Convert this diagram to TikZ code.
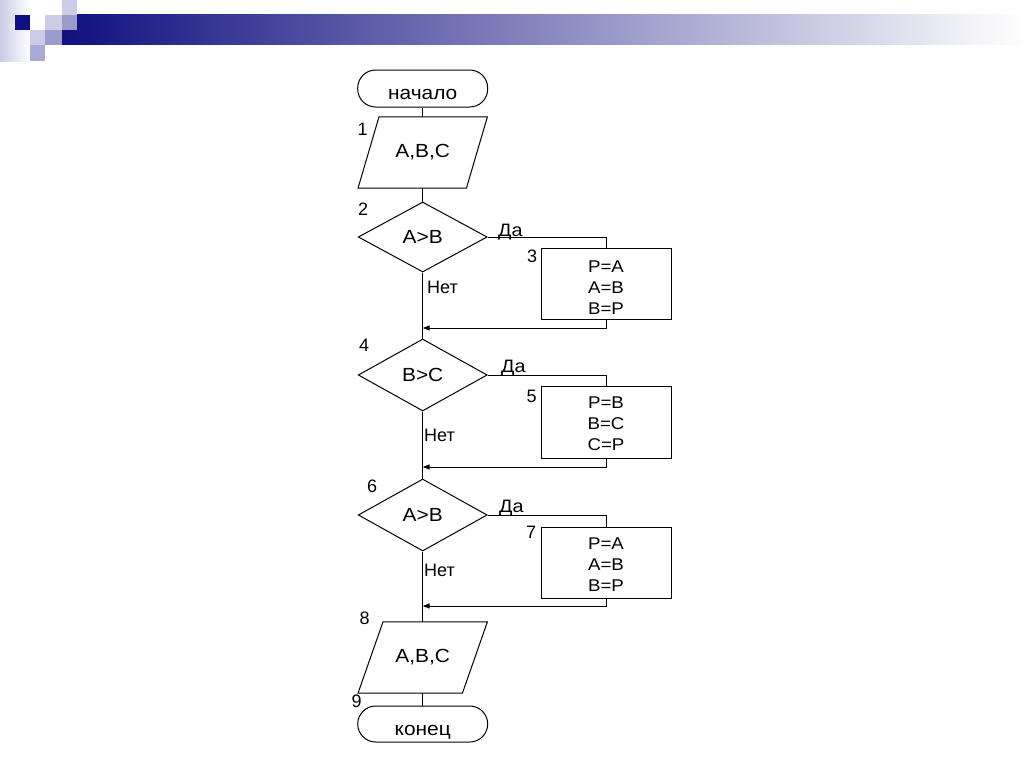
\documentclass[tikz,border=0pt]{standalone}
\usepackage{fontspec}
\setmainfont{Liberation Sans}
\newfontfamily\widefont[FakeStretch=1.1]{Liberation Sans}
\usetikzlibrary{arrows.meta,shapes.geometric}
\definecolor{navy}{RGB}{16,16,128}
\definecolor{lav1}{RGB}{204,204,230}
\definecolor{lav2}{RGB}{156,156,204}
\definecolor{lav3}{RGB}{170,170,214}
\begin{document}
\begin{tikzpicture}[x=1pt,y=-1pt,
  line/.style={draw=black, line width=1pt},
  mainfont/.style={font=\widefont\fontsize{19}{21}\selectfont},
  term/.style={draw, line width=1pt, rectangle, rounded corners=18pt, minimum width=130pt, minimum height=37pt, inner sep=0pt, mainfont, text height=22pt, text depth=0pt},
  io/.style={rectangle, minimum width=129pt, minimum height=71pt, inner sep=0pt, mainfont},
  dec/.style={draw, line width=1pt, diamond, minimum width=129pt, minimum height=70pt, inner sep=0pt, mainfont},
  proc/.style={draw, line width=1pt, rectangle, minimum width=130pt, minimum height=71pt, inner sep=0pt},
  boxtxt/.style={align=center, inner sep=0pt, font=\widefont\fontsize{17}{21}\selectfont},
  lbl/.style={inner sep=0pt, font=\fontsize{18}{21}\selectfont},
  yn/.style={inner sep=0pt, font=\widefont\fontsize{18}{21}\selectfont},
  arr/.style={-{Triangle[length=7pt,width=5pt]}}
]
\useasboundingbox (0,0) rectangle (1024,768);
% header decoration
\shade[left color=lav1, right color=white] (0,0) rectangle (30,61);
\shade[left color=navy, right color=white] (62,15) rectangle (1024,45);
\fill[navy] (15,15) rectangle (30,30);
\fill[lav1] (30,30) rectangle (45,45);
\fill[lav1] (45,15) rectangle (62,30);
\fill[lav2] (45,30) rectangle (62,45);
\fill[lav1] (62,0) rectangle (77,15);
\fill[lav2] (62,15) rectangle (77,30);
\fill[lav3] (30,45) rectangle (45,61);

% nodes
\node[term] (start) at (422.7,88.5) {начало};
\node[io] (p1) at (422.7,152.5) {A,B,C};
\draw[line] ([xshift=21pt]p1.north west) -- (p1.north east) -- ([xshift=-21pt]p1.south east) -- (p1.south west) -- cycle;
\node[dec] (d2) at (422.7,237) {A>B};
\node[proc] (b3) at (606,283.5) {};
\node[boxtxt] (t3) at (606,288) {P=A\\A=B\\B=P};
\node[dec, minimum height=72pt] (d4) at (422.7,375) {B>C};
\node[proc, minimum height=72pt] (b5) at (606,422) {};
\node[boxtxt] (t5) at (606,424) {P=B\\B=C\\C=P};
\node[dec, minimum height=72pt] (d6) at (422.7,515) {A>B};
\node[proc] (b7) at (606,562.5) {};
\node[boxtxt] (t7) at (606,565) {P=A\\A=B\\B=P};
\node[io] (p8) at (422.7,657.5) {A,B,C};
\draw[line] ([xshift=25pt]p8.north west) -- (p8.north east) -- ([xshift=-25pt]p8.south east) -- (p8.south west) -- cycle;
\node[term, minimum height=36pt] (end) at (422.7,724) {конец};

% number labels
\node[lbl] (n1) at (362.5,129.5) {1};
\node[lbl] (n2) at (363,209.5) {2};
\node[lbl] (n3) at (532,256.5) {3};
\node[lbl] (n4) at (364,345) {4};
\node[lbl] (n5) at (531.5,396) {5};
\node[lbl] (n6) at (372,486) {6};
\node[lbl] (n7) at (531,532.5) {7};
\node[lbl] (n8) at (364.5,618.5) {8};
\node[lbl] (n9) at (356.5,701) {9};

% yes / no labels
\node[yn, anchor=base west] (y2) at (498,236) {Да};
\node[yn, anchor=base west] (y4) at (501,372) {Да};
\node[yn, anchor=base west] (y6) at (499,512.5) {Да};
\node[lbl, anchor=base west] (f2) at (427,293.5) {Нет};
\node[lbl, anchor=base west] (f4) at (424,441.5) {Нет};
\node[lbl, anchor=base west] (f6) at (424,576.5) {Нет};

% connectors
\coordinate (j3) at (422.7,328);
\coordinate (j5) at (422.7,467);
\coordinate (j7) at (422.7,606);
\draw[line] (start.south) -- (p1.north);
\draw[line] (p1.south) -- (d2.north);
\draw[line] (d2.east) -| (b3.north);
\draw[line] (d2.south) -- (d4.north);
\draw[line, arr] (b3.south) |- (j3);
\draw[line] (d4.east) -| (b5.north);
\draw[line] (d4.south) -- (d6.north);
\draw[line, arr] (b5.south) |- (j5);
\draw[line] (d6.east) -| (b7.north);
\draw[line] (d6.south) -- (p8.north);
\draw[line, arr] (b7.south) |- (j7);
\draw[line] (p8.south) -- (end.north);
\end{tikzpicture}
\end{document}
